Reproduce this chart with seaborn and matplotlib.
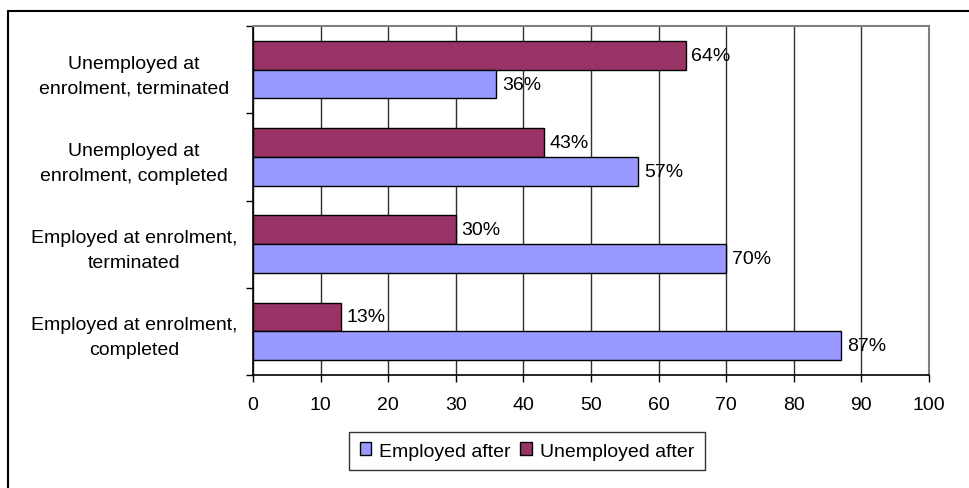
import matplotlib
matplotlib.use("Agg")
import matplotlib.pyplot as plt
import matplotlib.patches as mpatches
from matplotlib.lines import Line2D
import pandas as pd
import seaborn as sns

categories = [
    "Unemployed at\nenrolment, terminated",
    "Unemployed at\nenrolment, completed",
    "Employed at enrolment,\nterminated",
    "Employed at enrolment,\ncompleted",
]
employed_after = [36, 57, 70, 87]
unemployed_after = [64, 43, 30, 13]
series = ["Employed after", "Unemployed after"]
colors = {"Employed after": "#9999FF", "Unemployed after": "#993366"}
x_ticks = list(range(0, 101, 10))

data = pd.DataFrame({
    "category": categories * 2,
    "series": [series[1]] * 4 + [series[0]] * 4,
    "value": unemployed_after + employed_after,
})

sns.set_theme(style="white")
plt.rcParams["font.family"] = ["Liberation Sans", "DejaVu Sans"]
plt.rcParams["text.color"] = "black"
plt.rcParams["xtick.color"] = "black"
plt.rcParams["ytick.color"] = "black"

fs = 14
fig = plt.figure(figsize=(9.69, 4.89), dpi=100)
ax = fig.add_axes([253 / 969, 1 - 376 / 489, 676 / 969, 349 / 489])

sns.barplot(
    data=data, y="category", x="value", hue="series",
    order=categories, hue_order=[series[1], series[0]],
    palette=colors, saturation=1, orient="h", width=0.66, edgecolor="black",
    linewidth=1, legend=False, ax=ax, zorder=3,
)

for container in ax.containers:
    ax.bar_label(container, labels=[f"{v:.0f}%" for v in container.datavalues],
                 padding=4, fontsize=fs, color="black", zorder=4)

ax.set_xlim(0, 100)
ax.set_xticks(x_ticks)
ax.set_xlabel("")
ax.set_ylabel("")
ax.xaxis.grid(True, color="#303030", linewidth=1, zorder=0)
ax.set_axisbelow(True)
ax.tick_params(axis="x", labelsize=fs, length=5, width=1, color="black",
               direction="out", bottom=True, pad=10, labelcolor="black")
ax.tick_params(axis="y", which="major", length=0, labelsize=fs, labelcolor="black")
ax.set_yticks([-0.5, 0.5, 1.5, 2.5, 3.5], minor=True)
ax.tick_params(axis="y", which="minor", length=5, width=1, color="black",
               direction="out", left=True)
ax.set_yticks(range(len(categories)))
ax.set_yticklabels(categories, ha="center", linespacing=1.6)
for lbl in ax.get_yticklabels():
    lbl.set_x((139 - 253) / 676)
ax.set_ylim(3.5, -0.5)

for side in ("left", "bottom"):
    ax.spines[side].set_color("black")
    ax.spines[side].set_linewidth(1.2)
for side in ("top", "right"):
    ax.spines[side].set_color("#808080")
    ax.spines[side].set_linewidth(1.5)

handles = [mpatches.Patch(facecolor=colors[s], edgecolor="black", linewidth=1) for s in series]
leg = fig.legend(handles, series, loc="center", bbox_to_anchor=(527 / 969, 1 - 452 / 489),
                 ncol=2, frameon=True, fontsize=fs, handlelength=0.6, handleheight=0.6,
                 handletextpad=0.4, columnspacing=0.5, borderpad=0.55, fancybox=False)
leg.get_frame().set_edgecolor("black")
leg.get_frame().set_linewidth(1)

fig.add_artist(Line2D([8 / 969, 8 / 969], [0, 1 - 12 / 489], color="black", linewidth=1.5))
fig.add_artist(Line2D([8 / 969, 1], [1 - 12 / 489, 1 - 12 / 489], color="black", linewidth=1.5))

fig.savefig("out.png", dpi=100)
